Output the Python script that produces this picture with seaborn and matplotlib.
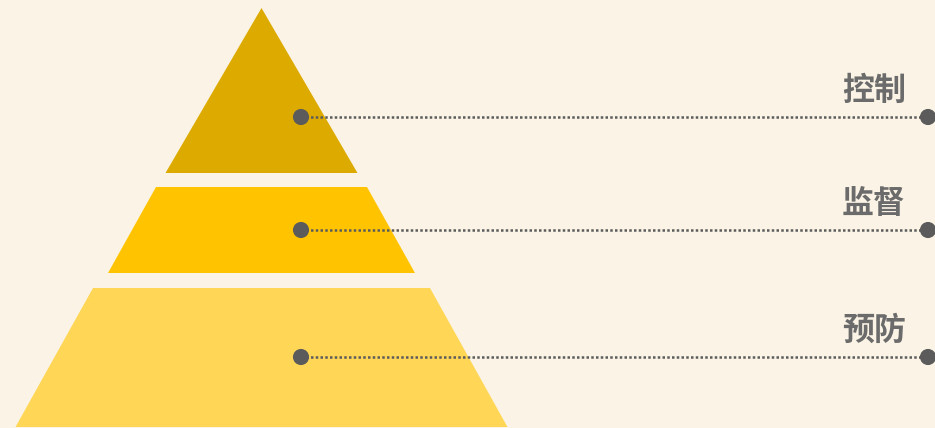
import numpy as np
import pandas as pd
import seaborn as sns
import matplotlib.pyplot as plt

# pyramid layers, top to bottom
labels = ["控制", "监督", "预防"]
layer_colors = ["#DDAA00", "#FFC300", "#FFD655"]
layer_tops = [8, 187, 288]
layer_bottoms = [173, 273, 427]
top_half_widths = [0, 105.5, 168.5]
bottom_half_widths = [96, 153.5, 246]
marker_y = [117, 230, 357]

center_x = 261.5

sns.set_theme(style="white")
plt.rcParams["font.family"] = ["Noto Sans CJK SC", "DejaVu Sans"]

bg = "#FBF4E6"
fig = plt.figure(figsize=(9.35, 4.28), dpi=100, facecolor=bg)
ax = fig.add_axes([0, 0, 1, 1])
ax.set_facecolor(bg)

for top, bottom, wt, wb, color in zip(layer_tops, layer_bottoms,
                                      top_half_widths, bottom_half_widths,
                                      layer_colors):
    xs = [center_x - wt, center_x + wt, center_x + wb, center_x - wb]
    ys = [top, top, bottom, bottom]
    ax.fill(xs, ys, color=color, lw=0, zorder=1)

left_x = 301
right_x = 928
for y in marker_y:
    ax.plot([left_x, right_x], [y, y], color="#5B5B5B", lw=1.8,
            linestyle=(0, (1, 0.9)), zorder=2)

dots = pd.DataFrame({
    "x": [left_x] * len(marker_y) + [right_x] * len(marker_y),
    "y": marker_y + marker_y,
})
sns.scatterplot(data=dots, x="x", y="y", s=135, color="#5B5B5B",
                edgecolor="none", ax=ax, zorder=3, legend=False)
ax.set_xlim(0, 935)
ax.set_ylim(428, 0)
ax.axis("off")

for lab, y in zip(labels, marker_y):
    ax.text(906, y - 26, lab, ha="right", va="center", fontsize=23,
            fontweight="bold", color="#6B6B6B", zorder=4)

fig.savefig("out.png", dpi=100, facecolor=bg)
